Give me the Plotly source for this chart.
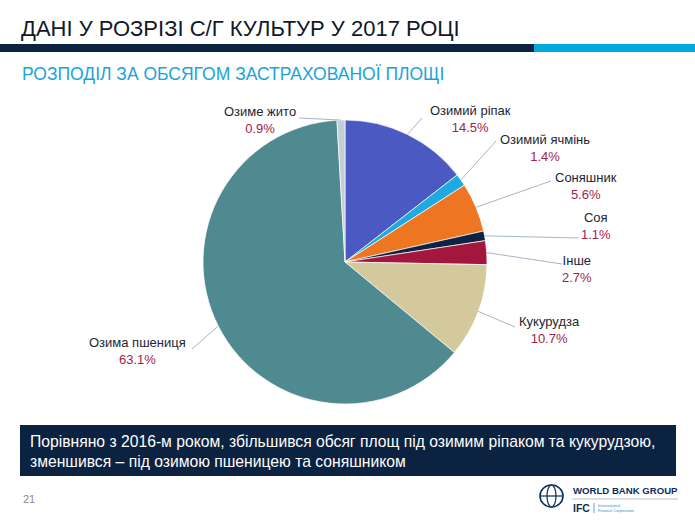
import math
import plotly.graph_objects as go

W, H = 695, 520

# ---- data ----
crops = ["Озимий ріпак", "Озимий ячмінь", "Соняшник", "Соя", "Інше",
         "Кукурудза", "Озима пшениця", "Озиме жито"]
shares = [14.5, 1.4, 5.6, 1.1, 2.7, 10.7, 63.1, 0.9]
colors = ["#4B5AC3", "#1DA9E1", "#EE7623", "#0E2244", "#A3173F",
          "#D4C99C", "#4E8A8F", "#C2CED8"]

title = "ДАНІ У РОЗРІЗІ С/Г КУЛЬТУР У 2017 РОЦІ"
subtitle = "РОЗПОДІЛ ЗА ОБСЯГОМ ЗАСТРАХОВАНОЇ ПЛОЩІ"
note_lines = ["Порівняно з 2016-м роком, збільшився обсяг площ під озимим ріпаком та кукурудзою,",
              "зменшився – під озимою пшеницею та соняшником"]
page_no = "21"

# ---- layout constants (pixels) ----
CX, CY, R = 345, 262, 142
# label centre (x, name-line y) and leader-line end points, in pixels
label_pos = [(470, 111), (545, 140), (586, 178), (596, 218), (577, 261),
             (549, 322), (137, 343), (260, 112)]
line_end = [(422, 118), (496, 141), (551, 181), (579, 238), (562, 264),
            (515, 327), (192, 349), (299, 118)]

NAVY = "#0B2240"
PCT = "#A3214B"
TXT = "#1E2532"
LEADER = "#A7B6C6"
FONT = "Liberation Sans, Arial, sans-serif"


def px(x):
    return x / W


def py(y):
    return 1 - y / H


fig = go.Figure()
fig.add_trace(go.Pie(
    labels=crops, values=shares, sort=False, direction="clockwise", rotation=0,
    marker=dict(colors=colors, line=dict(color="white", width=0.7)),
    textinfo="none", hoverinfo="label+percent", showlegend=False,
    domain=dict(x=[px(CX - R), px(CX + R)], y=[py(CY + R), py(CY - R)]),
))

shapes = []
annotations = []

# header
shapes.append(dict(type="rect", xref="paper", yref="paper", x0=0, x1=px(534),
                   y0=py(52), y1=py(44), fillcolor=NAVY, line_width=0, layer="above"))
shapes.append(dict(type="rect", xref="paper", yref="paper", x0=px(534), x1=1,
                   y0=py(52), y1=py(44), fillcolor="#02A8E0", line_width=0, layer="above"))
annotations.append(dict(text=title, x=px(19), y=py(28), xref="paper", yref="paper",
                        xanchor="left", yanchor="middle", showarrow=False,
                        font=dict(family=FONT, size=22, color="#111827")))
annotations.append(dict(text=subtitle, x=px(20), y=py(74), xref="paper", yref="paper",
                        xanchor="left", yanchor="middle", showarrow=False,
                        font=dict(family=FONT, size=17.5, color="#1BA3DB")))

# labels and leader lines computed from data
total = sum(shares)
cum = 0.0
for name, v, (lx, ly), (ex, ey) in zip(crops, shares, label_pos, line_end):
    mid = (cum + v / 2) / total * 2 * math.pi
    cum += v
    sx = CX + R * math.sin(mid)
    sy = CY - R * math.cos(mid)
    shapes.append(dict(type="line", xref="paper", yref="paper",
                       x0=px(sx), y0=py(sy), x1=px(ex), y1=py(ey),
                       line=dict(color=LEADER, width=1), layer="above"))
    annotations.append(dict(
        text=f"{name}<br><span style='color:{PCT}'>{v / total * 100:.1f}%</span>",
        x=px(lx), y=py(ly + 8), xref="paper", yref="paper",
        xanchor="center", yanchor="middle", showarrow=False, align="center",
        font=dict(family=FONT, size=13, color=TXT)))

# bottom note box
shapes.append(dict(type="rect", xref="paper", yref="paper", x0=px(20), x1=px(676),
                   y0=py(476), y1=py(425), fillcolor=NAVY, line_width=0, layer="above"))
annotations.append(dict(text="<br>".join(note_lines), x=px(28), y=py(451),
                        xref="paper", yref="paper", xanchor="left", yanchor="middle",
                        showarrow=False, align="left",
                        font=dict(family=FONT, size=15.7, color="white")))
annotations.append(dict(text=page_no, x=px(21), y=py(499), xref="paper", yref="paper",
                        xanchor="left", yanchor="middle", showarrow=False,
                        font=dict(family=FONT, size=11, color="#8A8A8A")))

# logo (approximation)
LOGO = "#0B2F5B"
shapes.append(dict(type="circle", xref="paper", yref="paper", x0=px(540), x1=px(563),
                   y0=py(507), y1=py(485), line=dict(color=LOGO, width=1.6), layer="above"))
shapes.append(dict(type="circle", xref="paper", yref="paper", x0=px(547), x1=px(556),
                   y0=py(507), y1=py(485), line=dict(color=LOGO, width=1.2), layer="above"))
shapes.append(dict(type="line", xref="paper", yref="paper", x0=px(540), x1=px(563),
                   y0=py(496), y1=py(496), line=dict(color=LOGO, width=1.2), layer="above"))
shapes.append(dict(type="line", xref="paper", yref="paper", x0=px(572), x1=px(678),
                   y0=py(499), y1=py(499), line=dict(color="#9FB3C8", width=0.8), layer="above"))
annotations.append(dict(text="<b>WORLD BANK GROUP</b>", x=px(571), y=py(490), xref="paper",
                        yref="paper", xanchor="left", yanchor="middle", showarrow=False,
                        font=dict(family=FONT, size=9.6, color=LOGO)))
annotations.append(dict(text="<b>IFC</b>", x=px(571), y=py(508), xref="paper",
                        yref="paper", xanchor="left", yanchor="middle", showarrow=False,
                        font=dict(family=FONT, size=10.5, color=LOGO)))
shapes.append(dict(type="line", xref="paper", yref="paper", x0=px(594), x1=px(594),
                   y0=py(503), y1=py(513), line=dict(color="#3A8FD0", width=0.8), layer="above"))
annotations.append(dict(text="International<br>Finance Corporation", x=px(596), y=py(508),
                        xref="paper", yref="paper", xanchor="left", yanchor="middle",
                        showarrow=False, align="left",
                        font=dict(family=FONT, size=4, color="#3A8FD0")))

fig.update_layout(
    width=W, height=H, margin=dict(l=0, r=0, t=0, b=0),
    paper_bgcolor="white", plot_bgcolor="white",
    shapes=shapes, annotations=annotations, showlegend=False,
)

fig.write_html("out.html", config={"displayModeBar": False},
               post_script="document.body.style.margin='0';document.body.style.overflow='hidden';")
